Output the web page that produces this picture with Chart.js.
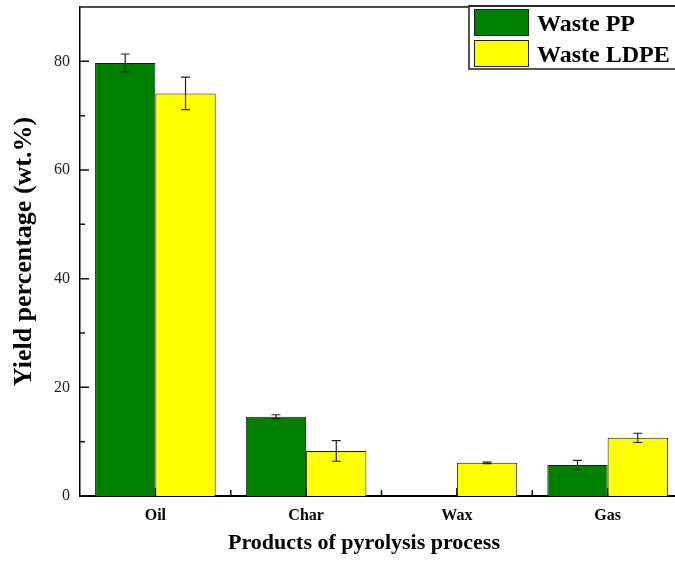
<!DOCTYPE html>
<html>
<head>
<meta charset="utf-8">
<script src="https://cdn.jsdelivr.net/npm/chart.js@4"></script>
<style>
  html, body { margin: 0; padding: 0; background: #fff; overflow: hidden; }
  #wrap { width: 690px; height: 565px; }
</style>
</head>
<body>
<div id="wrap"><canvas id="chart"></canvas></div>
<script>
// categories and series
const categories = ['Oil', 'Char', 'Wax', 'Gas'];
const seriesNames = ['Waste PP', 'Waste LDPE'];
const ppYield = [79.7, 14.6, 0, 5.7];
const ppErr = [1.65, 0.35, 0, 0.85];
const ldpeYield = [74.1, 8.3, 6.1, 10.7];
const ldpeErr = [3.0, 1.9, 0.15, 0.85];
const yTicks = [0, 20, 40, 60, 80];
const xTitle = 'Products of pyrolysis process';

const SERIF = "'Liberation Serif', 'Times New Roman', serif";
const colors = { pp: '#008000', ldpe: '#FFFF00', edge: '#1a1a1a' };

// error bars, drawn from the scale
const errorBars = {
    id: 'errorBars',
    afterDatasetsDraw(chart) {
        const ctx = chart.ctx;
        const y = chart.scales.y;
        ctx.save();
        ctx.strokeStyle = '#222';
        ctx.lineWidth = 1.2;
        chart.data.datasets.forEach((ds, di) => {
            const meta = chart.getDatasetMeta(di);
            meta.data.forEach((bar, i) => {
                const e = ds.errors[i];
                if (!e) return;
                const top = y.getPixelForValue(ds.data[i] + e);
                const bot = y.getPixelForValue(ds.data[i] - e);
                ctx.beginPath();
                ctx.moveTo(bar.x, top); ctx.lineTo(bar.x, bot);
                ctx.moveTo(bar.x - 4.5, top); ctx.lineTo(bar.x + 4.5, top);
                ctx.moveTo(bar.x - 4.5, bot); ctx.lineTo(bar.x + 4.5, bot);
                ctx.stroke();
            });
        });
        ctx.restore();
    }
};

// inward tick marks + top frame line
const frameTicks = {
    id: 'frameTicks',
    beforeDatasetsDraw(chart) {
        const ctx = chart.ctx;
        const { left, right, top, bottom } = chart.chartArea;
        const y = chart.scales.y, x = chart.scales.x;
        ctx.save();
        ctx.strokeStyle = '#111';
        ctx.lineWidth = 1.5;
        ctx.beginPath();
        y.ticks.forEach((t) => {
            const py = y.getPixelForValue(t.value);
            ctx.moveTo(left, py); ctx.lineTo(left + 9, py);
            const mid = t.value + 10;
            if (mid < y.max) {
                const pm = y.getPixelForValue(mid);
                ctx.moveTo(left, pm); ctx.lineTo(left + 5, pm);
            }
        });
        categories.forEach((c, i) => {
            const pc = x.getPixelForValue(i);
            ctx.moveTo(pc, bottom); ctx.lineTo(pc, bottom - 8);
            const pb = x.getPixelForValue(i + 0.5);
            ctx.moveTo(pb, bottom); ctx.lineTo(pb, bottom - 6);
        });
        ctx.stroke();
        ctx.beginPath();
        ctx.moveTo(left - 0.75, top); ctx.lineTo(right, top);
        ctx.stroke();
        ctx.restore();
    }
};

// boxed legend in the top-right corner, x axis title
const boxLegend = {
    id: 'boxLegend',
    afterDraw(chart) {
        const ctx = chart.ctx;
        ctx.save();
        ctx.fillStyle = '#fff';
        ctx.fillRect(469, 6, 230, 63);
        ctx.strokeStyle = '#555';
        ctx.lineWidth = 2;
        ctx.strokeRect(469, 6, 230, 63);
        ctx.strokeStyle = '#000';
        ctx.lineWidth = 1;
        ctx.beginPath();
        ctx.moveTo(468, 6); ctx.lineTo(700, 6);
        ctx.stroke();
        chart.data.datasets.forEach((ds, i) => {
            const sy = 9 + i * 31;
            ctx.fillStyle = ds.backgroundColor;
            ctx.fillRect(474, sy, 55, 27);
            ctx.strokeStyle = '#222';
            ctx.lineWidth = 1;
            ctx.strokeRect(474.5, sy + 0.5, 54, 26);
            ctx.fillStyle = '#000';
            ctx.font = 'bold 24px ' + SERIF;
            ctx.textBaseline = 'alphabetic';
            ctx.fillText(ds.label, 537, 31 + i * 31);
        });
        ctx.font = 'bold 22px ' + SERIF;
        ctx.textAlign = 'center';
        ctx.fillText(xTitle, 364, 549);
        ctx.restore();
    }
};

new Chart(document.getElementById('chart'), {
    type: 'bar',
    data: {
        labels: categories,
        datasets: [
            { label: seriesNames[0], data: ppYield, errors: ppErr, backgroundColor: colors.pp,
              borderColor: colors.edge, borderWidth: 1 },
            { label: seriesNames[1], data: ldpeYield, errors: ldpeErr, backgroundColor: colors.ldpe,
              borderColor: colors.edge, borderWidth: 1 }
        ]
    },
    options: {
        responsive: true,
        maintainAspectRatio: false,
        animation: false,
        layout: { padding: { top: 7, right: 7, left: 0, bottom: 0 } },
        datasets: { bar: { categoryPercentage: 0.8, barPercentage: 1.0 } },
        plugins: { legend: { display: false }, tooltip: { enabled: false } },
        scales: {
            x: {
                grid: { display: false, drawTicks: false },
                border: { display: true, color: '#000', width: 2 },
                ticks: { font: { family: SERIF, size: 16, weight: 'bold' }, color: '#000', padding: 10 },
                title: { display: false },
                afterFit(scale) { scale.height = 69; }
            },
            y: {
                min: 0, max: 90,
                afterBuildTicks(scale) { scale.ticks = yTicks.map(v => ({ value: v })); },
                grid: { display: false, drawTicks: false },
                border: { display: true, color: '#000', width: 1.5 },
                ticks: { font: { family: SERIF, size: 16 }, color: '#222', padding: 10 },
                title: { display: true, text: 'Yield percentage (wt.%)',
                         font: { family: SERIF, size: 26, weight: 'bold' }, color: '#000', padding: { top: 9 } },
                afterFit(scale) {
                    scale.width = 80;
                    scale.paddingTop = 0;
                    scale.paddingBottom = 0;
                }
            }
        }
    },
    plugins: [frameTicks, errorBars, boxLegend]
});
</script>
</body>
</html>
